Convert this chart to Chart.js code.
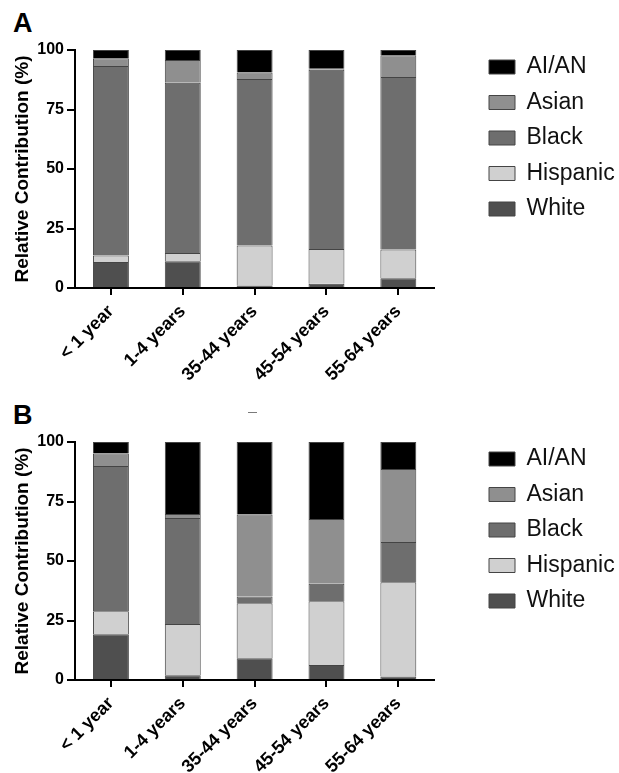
<!DOCTYPE html>
<html>
<head>
<meta charset="utf-8">
<script src="https://cdn.jsdelivr.net/npm/chart.js@4.4.1/dist/chart.umd.min.js"></script>
<style>
  html, body { margin: 0; padding: 0; background: #fff; overflow: hidden; }
  body { width: 619px; height: 773px; position: relative; font-family: "Liberation Sans", Arial, sans-serif; }
  canvas { position: absolute; left: 0; }
  .panel { position: absolute; left: 13px; font-weight: bold; font-size: 27px; line-height: 1; color: #000; }
  .speck { position: absolute; left: 248px; top: 412px; width: 9px; height: 1px; background: #7a7a7a; }
</style>
</head>
<body>
<div class="panel" style="top:10px">A</div>
<div class="panel" style="top:402px">B</div>
<div class="speck"></div>
<canvas id="chartA" width="619" height="392" style="top:0"></canvas>
<canvas id="chartB" width="619" height="392" style="top:392px"></canvas>
<script>
// age groups on the x axis
const ageGroups = ["< 1 year", "1-4 years", "35-44 years", "45-54 years", "55-64 years"];
const yTicks = [0, 25, 50, 75, 100];

// panel A, relative contribution (%)
const whiteA    = [10.9, 11.2,  1.0,  1.8,  4.1];
const hispanicA = [ 2.8,  3.5, 16.9, 14.6, 12.1];
const blackA    = [79.6, 71.5, 69.9, 75.3, 72.5];
const asianA    = [ 3.2,  9.6,  2.7,  0.4,  9.1];
const aianA     = [ 3.5,  4.2,  9.5,  7.9,  2.2];

// panel B, relative contribution (%)
const whiteB    = [19.2,  2.0,  9.1,  6.3,  1.5];
const hispanicB = [ 9.7, 21.5, 23.2, 26.8, 39.6];
const blackB    = [61.0, 44.6,  2.8,  7.3, 16.9];
const asianB    = [ 5.3,  1.7, 34.4, 27.2, 30.7];
const aianB     = [ 4.8, 30.2, 30.5, 32.4, 11.3];

const font = '"Liberation Sans", Arial, Helvetica, sans-serif';

function ds(label, data, color) {
  return {
    label: label,
    data: data,
    backgroundColor: color,
    borderColor: '#444',
    borderWidth: 1,
    barPercentage: 0.5,
    categoryPercentage: 1.0
  };
}

// put the legend where the figure has it
const legendSpot = {
  id: 'legendSpot',
  afterLayout(chart) {
    const lg = chart.legend;
    if (!lg) return;
    const w = lg.width, h = lg.height;
    lg.left = 476.5; lg.right = lg.left + w;
    lg.top = 43; lg.bottom = lg.top + h;
  }
};

function makeChart(id, white, hispanic, black, asian, aian) {
  return new Chart(document.getElementById(id), {
    type: 'bar',
    data: {
      labels: ageGroups,
      datasets: [
        ds('White', white, '#4f4f4f'),
        ds('Hispanic', hispanic, '#d0d0d0'),
        ds('Black', black, '#6e6e6e'),
        ds('Asian', asian, '#8f8f8f'),
        ds('AI/AN', aian, '#000000')
      ]
    },
    options: {
      responsive: false,
      animation: false,
      layout: { padding: { top: 50, right: 40, bottom: 0, left: 0 } },
      plugins: {
        tooltip: { enabled: false },
        legend: {
          position: 'right',
          align: 'start',
          reverse: true,
          labels: {
            boxWidth: 26,
            boxHeight: 14,
            padding: 12.5,
            color: '#111',
            font: { family: font, size: 23 }
          }
        }
      },
      scales: {
        x: {
          stacked: true,
          offset: true,
          grid: { display: true, drawOnChartArea: false, offset: false, color: '#000', lineWidth: 2, tickLength: 7 },
          border: { display: true, color: '#000', width: 2 },
          ticks: {
            color: '#000',
            minRotation: 45,
            maxRotation: 45,
            padding: 6,
            font: { family: font, size: 18, weight: 'bold' }
          },
          afterFit(scale) { scale.height = 104; }
        },
        y: {
          stacked: true,
          min: 0,
          max: 100,
          afterBuildTicks(scale) { scale.ticks = yTicks.map(v => ({ value: v })); },
          grid: { display: true, drawOnChartArea: false, color: '#000', lineWidth: 2, tickLength: 8 },
          border: { display: true, color: '#000', width: 2 },
          ticks: {
            color: '#000',
            padding: 3,
            font: { family: font, size: 16, weight: 'bold' }
          },
          title: {
            display: true,
            text: 'Relative Contribution (%)',
            color: '#000',
            padding: { top: 11, bottom: 0 },
            font: { family: font, size: 19, weight: 'bold' }
          },
          afterFit(scale) { scale.width = 75; }
        }
      }
    },
    plugins: [legendSpot]
  });
}

makeChart('chartA', whiteA, hispanicA, blackA, asianA, aianA);
makeChart('chartB', whiteB, hispanicB, blackB, asianB, aianB);
</script>
</body>
</html>
